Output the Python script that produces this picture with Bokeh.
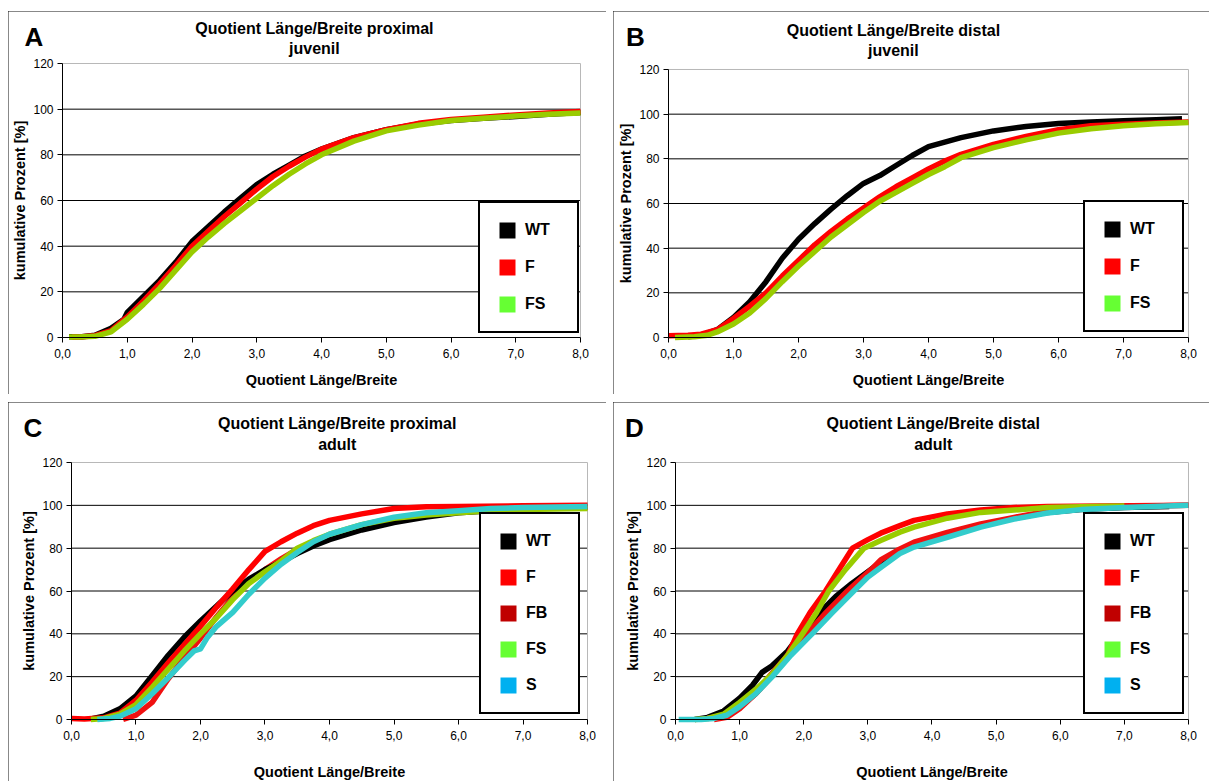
from bokeh.plotting import figure
from bokeh.models import Range1d, FixedTicker, Label, Legend, LegendItem
from bokeh.layouts import column, row
from bokeh.embed import file_html
from bokeh.resources import INLINE

FONT = "Liberation Sans"

# ---------------- axis ticks ----------------
x_ticks = [0, 1, 2, 3, 4, 5, 6, 7, 8]
x_tick_labels = ["0,0", "1,0", "2,0", "3,0", "4,0", "5,0", "6,0", "7,0", "8,0"]
y_ticks = [0, 20, 40, 60, 80, 100, 120]

x_title = "Quotient Länge/Breite"
y_title = "kumulative Prozent [%]"

# ---------------- panel A: proximal juvenil ----------------
A_WT_x = [0.1, 0.3, 0.5, 0.75, 0.95, 1.0, 1.25, 1.5, 1.75, 2.0, 2.25, 2.5, 2.75, 3.0, 3.25, 3.5, 3.75, 4.0, 4.5, 5.0, 5.5, 6.0, 6.5, 7.0, 7.5, 8.0]
A_WT_y = [0.3, 0.3, 1, 4, 8, 11, 18, 25, 33, 42, 48.5, 55, 61, 67, 71.5, 75.5, 79.5, 82.5, 87.5, 91, 93.5, 95, 96, 96.8, 97.8, 98.5]
A_F_x = [0.15, 0.3, 0.5, 0.75, 1.0, 1.25, 1.5, 1.75, 2.0, 2.25, 2.5, 2.75, 3.0, 3.25, 3.5, 3.75, 4.0, 4.5, 5.0, 5.5, 6.0, 6.5, 7.0, 7.5, 8.0]
A_F_y = [0.2, 0.3, 0.8, 3, 9, 16, 23.5, 31.5, 40, 46.5, 53, 59, 65, 70.5, 75, 79, 82.5, 87.5, 91, 93.8, 95.5, 96.5, 97.5, 98.3, 99]
A_FS_x = [0.1, 0.25, 0.5, 0.75, 1.0, 1.25, 1.5, 1.75, 2.0, 2.25, 2.5, 2.75, 3.0, 3.25, 3.5, 3.75, 4.0, 4.5, 5.0, 5.5, 6.0, 6.5, 7.0, 7.5, 8.0]
A_FS_y = [0.2, 0.2, 0.5, 2.5, 8, 14.5, 21.5, 29.5, 37.5, 44, 50, 55.5, 61, 66.5, 71.5, 76, 80, 86, 90.5, 93, 95, 96, 97, 97.8, 98.3]

# ---------------- panel B: distal juvenil ----------------
B_WT_x = [0.3, 0.5, 0.75, 1.0, 1.25, 1.5, 1.75, 2.0, 2.25, 2.5, 2.75, 3.0, 3.25, 3.5, 3.75, 4.0, 4.5, 5.0, 5.5, 6.0, 6.5, 7.0, 7.5, 7.9]
B_WT_y = [0.3, 1, 3.5, 9, 16, 25, 35.5, 44, 51, 57.5, 63.5, 69, 72.5, 77, 81.5, 85.5, 89.5, 92.5, 94.5, 95.8, 96.5, 97, 97.5, 98]
B_F_x = [0.0, 0.3, 0.5, 0.75, 1.0, 1.25, 1.5, 1.75, 2.0, 2.25, 2.5, 2.75, 3.0, 3.25, 3.5, 3.75, 4.0, 4.25, 4.5, 5.0, 5.5, 6.0, 6.5, 7.0, 7.5, 8.0]
B_F_y = [0.8, 1, 1.5, 3.5, 8.5, 14, 20, 27.5, 34.5, 41.5, 47.5, 53, 58, 63, 67.5, 71.5, 75.5, 79, 82, 86.5, 90, 93, 94.8, 95.5, 96, 96.5]
B_FS_x = [0.1, 0.4, 0.6, 0.75, 1.0, 1.25, 1.5, 1.75, 2.0, 2.25, 2.5, 2.75, 3.0, 3.25, 3.5, 3.75, 4.0, 4.25, 4.5, 5.0, 5.5, 6.0, 6.5, 7.0, 7.5, 8.0]
B_FS_y = [0, 0.3, 1, 2.5, 6, 11, 17.5, 25, 32, 38.5, 45, 50.5, 56, 61, 65, 69, 73, 76.5, 80.5, 85, 88.5, 91.5, 93.5, 94.8, 95.7, 96.3]

# ---------------- panel C: proximal adult ----------------
C_WT_x = [0.3, 0.5, 0.75, 1.0, 1.25, 1.5, 1.75, 2.0, 2.25, 2.5, 2.75, 3.0, 3.25, 3.5, 3.75, 4.0, 4.5, 5.0, 5.5, 6.0, 6.5, 7.0, 7.5, 8.0]
C_WT_y = [0.3, 1.5, 5, 11, 20.5, 30, 38.5, 46, 53, 60, 65.5, 70, 73.5, 77.5, 81, 84, 88.5, 92, 94.5, 96.5, 97.5, 98.5, 99, 99.5]
C_F_x = [0.0, 0.2, 0.5, 0.75, 1.0, 1.25, 1.5, 1.75, 2.0, 2.25, 2.5, 2.75, 3.0, 3.25, 3.5, 3.75, 4.0, 4.5, 5.0, 5.5, 6.0, 7.0, 8.0]
C_F_y = [0.5, 0.2, 0.8, 3, 9, 17.5, 26.5, 35, 43.5, 52.5, 61, 70, 78.5, 83, 87, 90.5, 93, 96, 98.5, 99.3, 99.5, 99.8, 100]
C_FB_x = [0.8, 1.0, 1.25, 1.5, 1.75, 2.0, 2.25, 2.5, 2.75, 3.0, 3.25, 3.5, 4.0, 4.5, 5.0, 6.0, 7.0, 8.0]
C_FB_y = [0, 2, 8, 19, 29, 38, 48, 57, 64, 70, 75, 79.5, 86, 90.5, 94, 97, 98.5, 99]
C_FS_x = [0.3, 0.5, 0.75, 1.0, 1.25, 1.5, 1.75, 2.0, 2.25, 2.5, 2.75, 3.0, 3.25, 3.5, 3.75, 4.0, 4.5, 5.0, 5.5, 6.0, 6.5, 7.0, 8.0]
C_FS_y = [0, 0.5, 2.5, 7, 15, 23.5, 32, 40, 47.5, 56, 63.5, 69, 74, 80, 83.5, 86.5, 91, 94, 95.5, 96.5, 97.5, 98, 98.5]
C_S_x = [0.4, 0.6, 0.75, 1.0, 1.25, 1.5, 1.75, 1.9, 2.0, 2.1, 2.25, 2.5, 2.75, 3.0, 3.25, 3.5, 3.75, 4.0, 4.5, 5.0, 5.5, 6.0, 6.5, 7.0, 8.0]
C_S_y = [0, 0.5, 1.5, 5, 12, 19.5, 27.5, 32, 33, 38, 43.5, 50, 58.5, 66, 72.5, 78, 83, 86.5, 91, 94.5, 96.5, 97.5, 98.5, 99, 99.5]

# ---------------- panel D: distal adult ----------------
D_WT_x = [0.3, 0.5, 0.75, 1.0, 1.2, 1.35, 1.5, 1.75, 2.0, 2.25, 2.5, 2.75, 3.0, 3.2, 3.5, 3.72, 4.24, 4.76, 5.28, 5.8, 6.32, 7.0, 7.7]
D_WT_y = [0, 1, 4, 10, 16, 22, 25, 32, 42, 50, 57.5, 63.5, 69, 73.5, 78, 81.2, 85.9, 90.5, 94, 96.7, 98, 99, 99.5]
D_F_x = [0.5, 0.75, 1.0, 1.25, 1.5, 1.75, 1.9, 2.1, 2.34, 2.55, 2.76, 3.0, 3.2, 3.5, 3.72, 4.24, 4.76, 5.28, 5.8, 8.0]
D_F_y = [0.5, 2, 6, 12, 20, 30, 40, 50, 60, 70, 80, 84, 87, 90.5, 93, 96, 97.8, 99, 99.5, 100]
D_FB_x = [0.6, 0.8, 1.0, 1.25, 1.46, 1.75, 2.05, 2.35, 2.68, 3.05, 3.2, 3.46, 3.72, 4.24, 4.76, 5.28, 5.8, 6.32, 7.0, 8.0]
D_FB_y = [0, 1, 5, 12, 20, 30, 40, 50, 60, 70, 74.5, 79, 82.8, 87.4, 91.3, 94.4, 97.2, 98.8, 99.5, 100]
D_FS_x = [0.3, 0.5, 0.75, 1.0, 1.25, 1.5, 1.75, 1.98, 2.2, 2.39, 2.65, 2.94, 3.2, 3.5, 3.72, 4.24, 4.76, 5.28, 5.8, 6.5, 7.0]
D_FS_y = [0, 0.5, 2.5, 8, 14, 21, 30, 40, 50, 60, 70, 80, 83.6, 87.5, 89.8, 94, 96.7, 97.8, 99, 99.5, 99.7]
D_S_x = [0.05, 0.4, 0.6, 0.8, 1.0, 1.25, 1.51, 1.8, 2.13, 2.45, 2.78, 3.0, 3.2, 3.5, 3.72, 4.24, 4.76, 5.28, 5.8, 6.32, 7.0, 8.0]
D_S_y = [0, 0, 0.5, 2, 6, 12, 20, 30, 40, 50, 60, 66.5, 71, 77.5, 80.5, 85.1, 89.8, 93.6, 96.4, 98, 99, 100]

# ---------------- colours ----------------
curve_colors = {"WT": "#000000", "F": "#ff0000", "FB": "#f01010", "FS": "#99cc00", "S": "#33cccc"}
legend_colors = {"WT": "#000000", "F": "#ff0000", "FB": "#c00000", "FS": "#66ff33", "S": "#00b0f0"}


def make_panel(letter, t1, t2, series, legend_names, g):
    p = figure(width=g["w"], height=g["h"], output_backend="svg", toolbar_location=None,
               x_range=Range1d(*g["xr"]), y_range=Range1d(*g["yr"]), title=None,
               min_border=0, background_fill_color="white", border_fill_color="white",
               outline_line_color=None, margin=g["margin"],
               styles={"outline": "1.5px solid #111111", "outline-offset": "-1.5px"})
    p.xgrid.visible = False
    p.ygrid.visible = False

    x0, x1 = x_ticks[0], x_ticks[-1]
    y0, y1 = y_ticks[0], y_ticks[-1]
    inner = y_ticks[1:-1]
    # horizontal gridlines across the plot area
    p.segment(x0=[x0] * len(inner), x1=[x1] * len(inner), y0=inner, y1=inner,
              line_color="#000000", line_width=1)
    # light plot-area border (top and right)
    p.segment(x0=[x0, x1], x1=[x1, x1], y0=[y1, y0], y1=[y1, y1],
              line_color="#b8b8b8", line_width=1)

    p.xaxis.ticker = FixedTicker(ticks=x_ticks)
    p.xaxis.major_label_overrides = {t: s for t, s in zip(x_ticks, x_tick_labels)}
    p.yaxis.ticker = FixedTicker(ticks=y_ticks)
    p.xaxis.fixed_location = y0
    p.yaxis.fixed_location = x0
    p.xaxis.bounds = (x0, x1)
    p.yaxis.bounds = (y0, y1)
    for ax in (p.xaxis, p.yaxis):
        ax.axis_line_color = "#000000"
        ax.axis_line_width = 1
        ax.major_tick_line_color = "#000000"
        ax.major_tick_out = 5
        ax.major_tick_in = 0
        ax.minor_tick_line_color = None
        ax.major_label_text_font = FONT
        ax.major_label_text_font_size = "12px"
        ax.major_label_text_color = "#000000"
        ax.axis_label_text_font = FONT
        ax.axis_label_text_font_size = "14.5px"
        ax.axis_label_text_font_style = "bold"
        ax.axis_label_text_color = "#000000"
    p.xaxis.axis_label = x_title
    p.yaxis.axis_label = y_title
    p.xaxis.major_label_standoff = 6
    p.yaxis.major_label_standoff = 4
    p.xaxis.axis_label_standoff = g["xls"]
    p.yaxis.axis_label_standoff = 2

    for name, (xs, ys) in series.items():
        p.line(xs, ys, line_color=curve_colors[name], line_width=5.5, line_join="round")

    # legend swatches: zero-size quads at each series' last point (nothing visible in the plot)
    items = []
    for name in legend_names:
        xs, ys = series[name]
        c = legend_colors[name]
        r = p.quad(left=xs[-1:], right=xs[-1:], top=ys[-1:], bottom=ys[-1:],
                   fill_color=c, line_color=None)
        items.append(LegendItem(label=name, renderers=[r]))
    leg = Legend(items=items, location=g["loc"],
                 border_line_color="#000000", border_line_width=2.5, border_line_alpha=1.0,
                 background_fill_color="white", background_fill_alpha=1.0,
                 label_text_font=FONT, label_text_font_style="bold",
                 label_text_font_size="16px", label_text_color="#000000",
                 glyph_width=20, glyph_height=20, label_height=20,
                 label_standoff=8, spacing=g["sp"], padding=17, margin=0,
                 label_width=35)
    p.add_layout(leg)

    for txt, ty in ((t1, g["ty1"]), (t2, g["ty2"])):
        p.add_layout(Label(x=g["tx"], y=ty, text=txt, text_font=FONT,
                           text_font_size="16px", text_font_style="bold",
                           text_color="#000000",
                           text_align="center", text_baseline="middle"))

    p.add_layout(Label(x=g["lx"], y=g["ly"], text=letter, text_font=FONT,
                       text_font_size="26px", text_font_style="bold",
                       text_color="#000000",
                       text_align="center", text_baseline="middle"))
    return p


gA = dict(w=598, h=383, margin=(11, 0, 0, 8), xr=(-0.8340, 8.4015), yr=(-24.963, 142.774),
          xls=11, sp=17, loc=(470, 61),
          tx=3.89, ty1=135.3, ty2=126.6, lx=-0.44, ly=131.6)
gB = dict(w=596, h=383, margin=(11, 0, 0, 7), xr=(-0.84615, 8.32308), yr=(-25.522, 145.970),
          xls=11, sp=17, loc=(470, 62),
          tx=3.46, ty1=137.5, ty2=128.5, lx=-0.51, ly=134.6)
gC = dict(w=598, h=379, margin=(8, 0, 0, 8), xr=(-0.97674, 8.29457), yr=(-28.949, 148.016),
          xls=21, sp=16, loc=(471, 67),
          tx=4.12, ty1=138.2, ty2=128.4, lx=-0.60, ly=136.1)
gD = dict(w=596, h=379, margin=(8, 0, 0, 7), xr=(-0.96686, 8.32749), yr=(-28.949, 148.016),
          xls=21, sp=16, loc=(470, 67),
          tx=4.02, ty1=138.2, ty2=128.4, lx=-0.64, ly=136.1)

pA = make_panel("A", "Quotient Länge/Breite proximal", "juvenil",
                {"WT": (A_WT_x, A_WT_y), "F": (A_F_x, A_F_y), "FS": (A_FS_x, A_FS_y)},
                ["WT", "F", "FS"], gA)
pB = make_panel("B", "Quotient Länge/Breite distal", "juvenil",
                {"WT": (B_WT_x, B_WT_y), "F": (B_F_x, B_F_y), "FS": (B_FS_x, B_FS_y)},
                ["WT", "F", "FS"], gB)
pC = make_panel("C", "Quotient Länge/Breite proximal", "adult",
                {"FB": (C_FB_x, C_FB_y), "WT": (C_WT_x, C_WT_y), "F": (C_F_x, C_F_y),
                 "FS": (C_FS_x, C_FS_y), "S": (C_S_x, C_S_y)},
                ["WT", "F", "FB", "FS", "S"], gC)
pD = make_panel("D", "Quotient Länge/Breite distal", "adult",
                {"WT": (D_WT_x, D_WT_y), "F": (D_F_x, D_F_y), "FB": (D_FB_x, D_FB_y),
                 "FS": (D_FS_x, D_FS_y), "S": (D_S_x, D_S_y)},
                ["WT", "F", "FB", "FS", "S"], gD)

layout = column(row(pA, pB), row(pC, pD))
open("out.html", "w").write(file_html(layout, INLINE))
